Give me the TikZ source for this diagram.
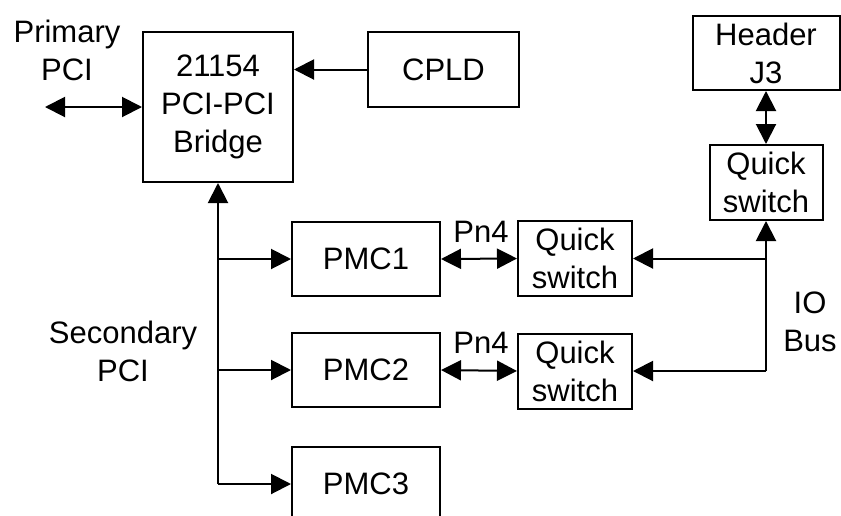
\documentclass[tikz,border=0pt]{standalone}
\usepackage{fontspec}
\setmainfont{Liberation Sans}
\usetikzlibrary{arrows.meta}

\tikzset{
    blk/.style={draw, line width=1pt, align=center, inner sep=0pt},
    lbl/.style={align=center, inner sep=0pt},
    bus/.style={line width=1pt, -{Triangle[length=10pt, width=10pt]}},
    bibus/.style={line width=1pt, {Triangle[length=10pt, width=10pt]}-{Triangle[length=10pt, width=10pt]}}
}

\begin{document}
\begin{tikzpicture}[x=0.5pt, y=-0.5pt, font=\fontsize{15.5pt}{19pt}\selectfont]
    \useasboundingbox (0,0) rectangle (841,515);
    \clip (0,0) rectangle (841,515);

    % boxes
    \node[blk, minimum width=75pt, minimum height=75pt] (bridge) at (218,107) {21154\\PCI-PCI\\Bridge};
    \node[blk, minimum width=75.5pt, minimum height=37.5pt] (cpld) at (443.5,69.5) {CPLD};
    \node[blk, minimum width=74pt, minimum height=37pt] (pmc1) at (366,259) {PMC1};
    \node[blk, minimum width=74pt, minimum height=37pt] (pmc2) at (366,370) {PMC2};
    \node[blk, minimum width=74pt, minimum height=37pt] (pmc3) at (366,484) {PMC3};
    \node[blk, minimum width=57pt, minimum height=37.5pt] (qs1) at (575,258.5) {Quick\\switch};
    \node[blk, minimum width=57pt, minimum height=37.5pt] (qs2) at (575,371) {Quick\\switch};
    \node[blk, minimum width=56.5pt, minimum height=37.5pt] (qs3) at (766,182.5) {Quick\\switch};
    \node[blk, minimum width=73.5pt, minimum height=37pt] (header) at (766,53) {Header\\J3};

    % labels
    \node[lbl] (prim) at (67,50) {Primary\\PCI};
    \node[lbl] (sec) at (123,351) {Secondary\\PCI};
    \node[lbl] (io) at (810,322) {IO\\Bus};
    \node[lbl] (pnA) at (481,232) {Pn4};
    \node[lbl] (pnB) at (481,343) {Pn4};

    % primary side
    \coordinate (primEnd) at (45,107);
    \draw[bibus] (primEnd) -- (bridge.west);
    \draw[bus] (cpld.west) -- (cpld.west -| bridge.east);

    % secondary bus
    \coordinate (busEnd) at (pmc3.west -| bridge.south);
    \draw[bus] (busEnd) -- (bridge.south);
    \draw[bus] (pmc1.west -| bridge.south) -- (pmc1.west);
    \draw[bus] (pmc2.west -| bridge.south) -- (pmc2.west);
    \draw[bus] (busEnd) -- (pmc3.west);

    % Pn4 links
    \draw[bibus] (pmc1.east) -- (qs1.west);
    \draw[bibus] (pmc2.east) -- (qs2.west);

    % IO bus
    \coordinate (ioEnd) at (qs3.south |- qs2.east);
    \draw[bus] (ioEnd) -- (qs3.south);
    \draw[bus] (qs1.east -| qs3.south) -- (qs1.east);
    \draw[bus] (ioEnd) -- (qs2.east);
    \draw[bibus] (header.south) -- (qs3.north);
\end{tikzpicture}
\end{document}
